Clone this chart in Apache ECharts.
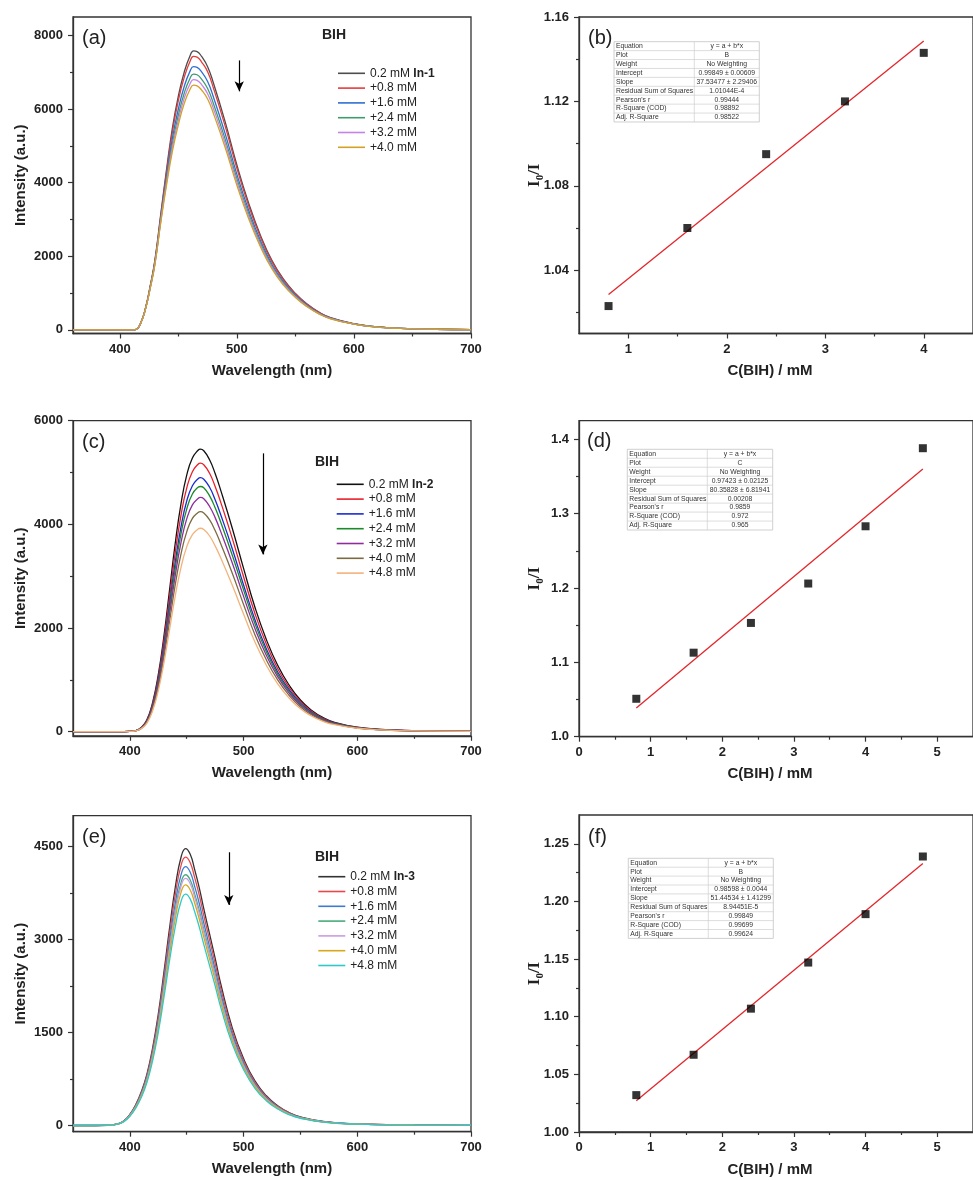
<!DOCTYPE html>
<html><head><meta charset="utf-8">
<script src="https://cdn.jsdelivr.net/npm/echarts@6/dist/echarts.min.js"></script>
<style>html,body{margin:0;padding:0;background:#fff}#c{width:973px;height:1180px}</style>
</head><body><div id="c"></div>
<script>
// ---------------- DATA ----------------
// Panel (a): emission spectra, In-1 + BIH
const aWave = [360,400,410,414,418,422,426,430,435,440,445,450,455,460,463,466,470,475,480,490,500,510,520,530,540,550,560,570,580,600,620,640,670,700];
const aS0 = [0,0,0,15,200,600,1200,1900,3150,4380,5500,6350,7000,7450,7580,7560,7420,7150,6700,5650,4480,3450,2580,1880,1370,990,700,480,330,165,80,40,15,5];
const aS1 = [0,0,0,15,198,592,1185,1875,3100,4300,5400,6230,6860,7300,7430,7410,7270,7010,6565,5535,4390,3380,2530,1845,1345,972,688,473,325,163,79,40,15,5];
const aS2 = [0,0,0,15,196,585,1165,1840,3040,4180,5220,6000,6610,7030,7150,7130,7000,6745,6320,5330,4225,3255,2435,1775,1295,938,665,458,316,160,78,39,15,5];
const aS3 = [0,0,0,15,195,580,1150,1815,2990,4090,5080,5830,6430,6835,6950,6930,6805,6555,6145,5180,4110,3165,2365,1728,1262,915,650,448,310,158,77,39,15,5];
const aS4 = [0,0,0,15,194,576,1140,1800,2955,4020,4970,5700,6290,6685,6800,6780,6655,6415,6010,5070,4020,3095,2315,1690,1235,897,638,441,305,156,76,38,15,5];
const aS5 = [0,0,0,15,193,572,1130,1780,2920,3950,4860,5570,6150,6535,6650,6630,6510,6270,5875,4955,3930,3025,2265,1652,1208,880,627,434,300,154,75,38,15,5];
const aLegend = ['0.2 mM In-1','+0.8 mM','+1.6 mM','+2.4 mM','+3.2 mM','+4.0 mM'];

// Panel (c): emission spectra, In-2 + BIH
const cWave = [350,390,400,405,410,415,420,425,430,435,440,445,450,455,460,462,465,470,475,480,490,500,510,520,530,540,550,560,570,580,600,620,650,700];
const cS0 = [0,0,5,20,80,230,560,1100,1850,2750,3650,4400,4950,5280,5430,5450,5420,5250,4980,4650,3930,3150,2400,1780,1280,900,610,410,270,180,85,45,18,5];
const cS1 = [0,0,5,19,76,218,532,1045,1760,2610,3470,4180,4700,5015,5160,5180,5150,4990,4730,4420,3735,2990,2280,1690,1215,855,580,390,257,171,82,43,17,5];
const cS2 = [0,0,5,18,72,207,503,990,1665,2470,3280,3955,4450,4745,4880,4900,4870,4720,4475,4180,3535,2830,2160,1600,1150,810,550,370,244,163,78,41,16,5];
const cS3 = [0,0,5,17,69,200,486,955,1605,2385,3170,3820,4295,4585,4715,4730,4705,4555,4320,4035,3410,2735,2085,1545,1110,782,530,357,236,158,76,40,16,5];
const cS4 = [0,0,5,17,66,191,464,912,1535,2280,3025,3650,4105,4375,4500,4520,4495,4350,4130,3855,3260,2610,1990,1475,1062,747,507,342,226,152,73,38,15,5];
const cS5 = [0,0,5,16,62,180,436,857,1440,2140,2845,3430,3855,4115,4230,4245,4220,4090,3880,3620,3060,2455,1870,1387,998,702,477,322,213,144,70,37,15,5];
const cS6 = [0,0,4,15,58,166,403,792,1332,1980,2630,3170,3565,3800,3910,3925,3900,3780,3585,3350,2830,2270,1730,1282,922,650,441,298,198,134,66,35,14,5];
const cLegend = ['0.2 mM In-2','+0.8 mM','+1.6 mM','+2.4 mM','+3.2 mM','+4.0 mM','+4.8 mM'];

// Panel (e): emission spectra, In-3 + BIH
const eWave = [350,370,380,390,395,400,405,410,415,420,425,430,435,440,445,449,453,457,461,465,470,475,480,490,500,510,520,530,540,550,570,600,650,700];
const eS0 = [0,0,5,30,80,180,330,540,830,1250,1800,2480,3200,3850,4330,4470,4380,4130,3840,3500,3100,2700,2280,1580,1080,720,480,320,210,140,65,25,8,3];
const eS1 = [0,0,5,29,78,175,320,523,804,1211,1744,2403,3100,3730,4195,4333,4245,4000,3720,3390,3005,2615,2210,1530,1045,697,465,310,204,136,63,24,8,3];
const eS2 = [0,0,5,28,75,168,308,504,775,1167,1680,2316,2990,3595,4045,4177,4090,3858,3587,3270,2895,2522,2130,1476,1009,672,448,299,196,131,61,23,8,3];
const eS3 = [0,0,5,27,73,163,299,489,751,1131,1630,2245,2895,3485,3920,4047,3965,3738,3475,3168,2805,2444,2063,1430,977,652,434,290,190,127,59,23,7,3];
const eS4 = [0,0,4,27,72,161,295,482,740,1115,1605,2212,2855,3435,3862,3988,3907,3684,3425,3122,2765,2408,2034,1409,963,642,428,285,187,125,58,22,7,3];
const eS5 = [0,0,4,26,70,156,287,469,721,1086,1564,2155,2780,3345,3763,3885,3806,3589,3337,3042,2694,2346,1981,1373,939,626,417,278,182,122,56,22,7,3];
const eS6 = [0,0,4,25,67,150,276,451,693,1044,1503,2071,2672,3215,3616,3734,3657,3449,3206,2923,2589,2255,1904,1319,902,601,401,267,175,117,54,21,7,3];
const eLegend = ['0.2 mM In-3','+0.8 mM','+1.6 mM','+2.4 mM','+3.2 mM','+4.0 mM','+4.8 mM'];

// Stern-Volmer panels (b), (d), (f)
const bConc = [0.8,1.6,2.4,3.2,4.0];
const bRatio = [1.023,1.060,1.095,1.120,1.143];
const bFitX = [0.8,4.0];
const bFitY = [1.0285,1.1486];
const dConc = [0.8,1.6,2.4,3.2,4.0,4.8];
const dRatio = [1.051,1.113,1.153,1.206,1.283,1.388];
const dFitX = [0.8,4.8];
const dFitY = [1.0385,1.3600];
const fConc = [0.8,1.6,2.4,3.2,4.0,4.8];
const fRatio = [1.032,1.067,1.107,1.147,1.189,1.239];
const fFitX = [0.8,4.8];
const fFitY = [1.0271,1.2329];

// Fit tables
const tableLabels = ['Equation','Plot','Weight','Intercept','Slope','Residual Sum of Squares',"Pearson's r",'R-Square (COD)','Adj. R-Square'];
const tableB = ['y = a + b*x','B','No Weighting','0.99849 ± 0.00609','37.53477 ± 2.29406','1.01044E-4','0.99444','0.98892','0.98522'];
const tableD = ['y = a + b*x','C','No Weighting','0.97423 ± 0.02125','80.35828 ± 6.81941','0.00208','0.9859','0.972','0.965'];
const tableF = ['y = a + b*x','B','No Weighting','0.98598 ± 0.0044','51.44534 ± 1.41299','8.94451E-5','0.99849','0.99699','0.99624'];

// Tick labels
const aXTicks = [400,500,600,700], aXMinor = [450,550,650];
const aYTicks = [0,2000,4000,6000,8000], aYMinor = [1000,3000,5000,7000];
const cXTicks = [400,500,600,700], cXMinor = [450,550,650];
const cYTicks = [0,2000,4000,6000], cYMinor = [1000,3000,5000];
const eXTicks = [400,500,600,700], eXMinor = [450,550,650];
const eYTicks = [0,1500,3000,4500], eYMinor = [750,2250,3750];
const bXTicks = [1,2,3,4], bXMinor = [1.5,2.5,3.5];
const bYTicks = [1.04,1.08,1.12,1.16], bYMinor = [1.02,1.06,1.10,1.14];
const dXTicks = [0,1,2,3,4,5], dXMinor = [0.5,1.5,2.5,3.5,4.5];
const dYTicks = [1.0,1.1,1.2,1.3,1.4], dYMinor = [1.05,1.15,1.25,1.35];
const fXTicks = [0,1,2,3,4,5], fXMinor = [0.5,1.5,2.5,3.5,4.5];
const fYTicks = [1.00,1.05,1.10,1.15,1.20,1.25], fYMinor = [1.025,1.075,1.125,1.175,1.225];

// ---------------- CHART ----------------
const FONT = '"Liberation Sans", Arial, Helvetica, sans-serif';
const SERIF = '"Liberation Serif", "Times New Roman", serif';
const AX = '#333';

const aColors = ['#4d4d4d','#e53b3b','#2e6fd1','#3f9b6f','#c583e6','#d1a227'];
const cColors = ['#111111','#e8202a','#1a2bd0','#1c8a2a','#8e2ca0','#7c6b40','#f4b27c'];
const eColors = ['#333333','#e8484c','#3a7cd4','#4aaa7c','#c99ce6','#d8a81c','#2fc9c9'];

const i0Name = '{i|I}{s|0}{i|/I}';
const i0Rich = {
  i:{fontFamily:SERIF,fontWeight:'bold',fontSize:17,color:'#222',lineHeight:22,verticalAlign:'middle'},
  s:{fontFamily:SERIF,fontWeight:'bold',fontSize:11,color:'#222',lineHeight:22,verticalAlign:'bottom'}
};

const panels = [
  {left:73, top:17, width:398, height:316.5, xMin:360, xMax:700, yMin:-100, yMax:8500, xT:aXTicks, xM:aXMinor, yT:aYTicks, yM:aYMinor, xName:'Wavelength (nm)', yName:'Intensity (a.u.)', yGap:45, yFmt:v=>String(v)},
  {left:579, top:17, width:398, height:316.5, xMin:0.5, xMax:4.5, yMin:1.01, yMax:1.16, xT:bXTicks, xM:bXMinor, yT:bYTicks, yM:bYMinor, xName:'C(BIH) / mM', yName:i0Name, yGap:33.5, yFmt:v=>v.toFixed(2), serif:true},
  {left:73, top:420.7, width:398, height:315.1, xMin:350, xMax:700, yMin:-80, yMax:6000, xT:cXTicks, xM:cXMinor, yT:cYTicks, yM:cYMinor, xName:'Wavelength (nm)', yName:'Intensity (a.u.)', yGap:45, yFmt:v=>String(v)},
  {left:579, top:420.7, width:398, height:316, xMin:0, xMax:5.5, yMin:1.0, yMax:1.425, xT:dXTicks, xM:dXMinor, yT:dYTicks, yM:dYMinor, xName:'C(BIH) / mM', yName:i0Name, yGap:33.5, yFmt:v=>v.toFixed(1), serif:true},
  {left:73, top:815.7, width:398, height:316, xMin:350, xMax:700, yMin:-100, yMax:5000, xT:eXTicks, xM:eXMinor, yT:eYTicks, yM:eYMinor, xName:'Wavelength (nm)', yName:'Intensity (a.u.)', yGap:45, yFmt:v=>String(v)},
  {left:579, top:815, width:398, height:317, xMin:0, xMax:5.5, yMin:1.0, yMax:1.275, xT:fXTicks, xM:fXMinor, yT:fYTicks, yM:fYMinor, xName:'C(BIH) / mM', yName:i0Name, yGap:33.5, yFmt:v=>v.toFixed(2), serif:true}
];

const grid = [], xAxis = [], yAxis = [];
const labelStyle = {fontSize:13, fontWeight:'bold', color:'#222', fontFamily:FONT};
const nameStyle = {fontSize:15, fontWeight:'bold', color:'#222', fontFamily:FONT};
panels.forEach((p,i)=>{
  grid.push({left:p.left, top:p.top, width:p.width, height:p.height, show:true, borderColor:AX, borderWidth:1.3, backgroundColor:'rgba(0,0,0,0)'});
  xAxis.push({gridIndex:i, type:'value', min:p.xMin, max:p.xMax, position:'bottom',
    axisLine:{show:true, onZero:false, lineStyle:{color:AX, width:1.3}},
    axisTick:{show:true, customValues:p.xT, length:5, lineStyle:{color:AX, width:1.2}},
    axisLabel:{customValues:p.xT, margin:9, ...labelStyle, formatter:v=>String(v)},
    splitLine:{show:false},
    name:p.xName, nameLocation:'middle', nameGap:30,
    nameTextStyle: p.serif ? {...nameStyle, padding:[0,12,0,0]} : nameStyle});
  xAxis.push({gridIndex:i, type:'value', min:p.xMin, max:p.xMax, position:'bottom',
    axisLine:{show:false, onZero:false}, axisLabel:{show:false},
    axisTick:{show:true, customValues:p.xM, length:3, lineStyle:{color:AX, width:1.2}},
    splitLine:{show:false}});
  yAxis.push({gridIndex:i, type:'value', min:p.yMin, max:p.yMax, position:'left',
    axisLine:{show:true, onZero:false, lineStyle:{color:AX, width:1.3}},
    axisTick:{show:true, customValues:p.yT, length:5, lineStyle:{color:AX, width:1.2}},
    axisLabel:{customValues:p.yT, margin:10, ...labelStyle, formatter:p.yFmt},
    splitLine:{show:false},
    name:p.yName, nameLocation:'middle', nameGap:p.yGap, nameMoveOverlap:false,
    nameTextStyle: p.serif ? {rich:i0Rich} : nameStyle});
  yAxis.push({gridIndex:i, type:'value', min:p.yMin, max:p.yMax, position:'left',
    axisLine:{show:false, onZero:false}, axisLabel:{show:false},
    axisTick:{show:true, customValues:p.yM, length:3, lineStyle:{color:AX, width:1.2}},
    splitLine:{show:false}});
});

const series = [];
function addSpectra(pi, prefix, wave, sets, colors, labels, arrow){
  sets.forEach((vals,k)=>{
    const s = {type:'line', name:prefix+':'+labels[k], xAxisIndex:pi*2, yAxisIndex:pi*2,
      data: wave.map((w,j)=>[w, vals[j]]), symbol:'none', showSymbol:false,
      smooth:0.5, lineStyle:{width:1.3, color:colors[k]}, itemStyle:{color:colors[k]}, z:2+k*0.01};
    if(k===0){
      s.markLine = {silent:true, symbol:['none','arrow'], symbolSize:[7,10], label:{show:false},
        lineStyle:{color:'#000', type:'solid', width:1.2},
        data:[[{coord:arrow[0]},{coord:arrow[1]}]]};
    }
    series.push(s);
  });
}
addSpectra(0,'a',aWave,[aS0,aS1,aS2,aS3,aS4,aS5],aColors,aLegend,[[502,7320],[502,6480]]);
addSpectra(2,'c',cWave,[cS0,cS1,cS2,cS3,cS4,cS5,cS6],cColors,cLegend,[[517,5370],[517,3420]]);
addSpectra(4,'e',eWave,[eS0,eS1,eS2,eS3,eS4,eS5,eS6],eColors,eLegend,[[487,4410],[487,3560]]);

function addSV(pi, conc, ratio, fx, fy){
  series.push({type:'line', xAxisIndex:pi*2, yAxisIndex:pi*2, data: fx.map((x,j)=>[x, fy[j]]),
    symbol:'none', lineStyle:{color:'#e3262b', width:1.3}, z:3});
  series.push({type:'scatter', xAxisIndex:pi*2, yAxisIndex:pi*2, data: conc.map((x,j)=>[x, ratio[j]]),
    symbol:'rect', symbolSize:8, itemStyle:{color:'#000'}, z:4});
}
addSV(1,bConc,bRatio,bFitX,bFitY);
addSV(3,dConc,dRatio,dFitX,dFitY);
addSV(5,fConc,fRatio,fFitX,fFitY);

function legendFor(prefix, labels, left, top){
  return {left, top, orient:'vertical', padding:0, itemGap:0.8, itemWidth:27, itemHeight:1.6, icon:'rect',
    selectedMode:false, data: labels.map(l=>prefix+':'+l),
    formatter: n => n.slice(2).replace(/(In-\d)/,'{b|$1}'),
    textStyle:{fontSize:12, color:'#222', fontFamily:FONT, lineHeight:14,
      rich:{b:{fontWeight:'bold', fontSize:12, color:'#222', fontFamily:FONT, lineHeight:14}}}};
}
const legend = [
  legendFor('a', aLegend, 338, 66.3),
  legendFor('c', cLegend, 336.7, 477.3),
  legendFor('e', eLegend, 318.3, 869.7)
];

const graphic = [];
function txt(x,y,t,size,weight,align){
  graphic.push({type:'text', x, y, z:20, style:{text:t, fontSize:size, fontWeight:weight||'normal', fontFamily:FONT, fill:'#222', align:align||'left', verticalAlign:'middle'}});
}
txt(82,38,'(a)',20); txt(588,38,'(b)',20);
txt(82,442,'(c)',20); txt(587,441,'(d)',20);
txt(82,837.5,'(e)',20); txt(588,837,'(f)',20);
txt(334,35,'BIH',14,'bold','center');
txt(327,462.3,'BIH',14,'bold','center');
txt(327,856.7,'BIH',14,'bold','center');

function table(x0,y0,w,split,rowH,vals){
  const h = rowH*tableLabels.length;
  graphic.push({type:'rect', z:15, shape:{x:x0,y:y0,width:w,height:h}, style:{fill:'#fff', stroke:'#c4c4c4', lineWidth:0.8}});
  for(let r=1;r<tableLabels.length;r++){
    graphic.push({type:'line', z:16, shape:{x1:x0,y1:y0+r*rowH,x2:x0+w,y2:y0+r*rowH}, style:{stroke:'#cfcfcf', lineWidth:0.7}});
  }
  graphic.push({type:'line', z:16, shape:{x1:split,y1:y0,x2:split,y2:y0+h}, style:{stroke:'#cfcfcf', lineWidth:0.7}});
  tableLabels.forEach((l,r)=>{
    graphic.push({type:'text', z:17, x:x0+2, y:y0+rowH*(r+0.5), style:{text:l, fontSize:6.8, fontFamily:FONT, fill:'#333', align:'left', verticalAlign:'middle'}});
    graphic.push({type:'text', z:17, x:(split+x0+w)/2, y:y0+rowH*(r+0.5), style:{text:vals[r], fontSize:6.8, fontFamily:FONT, fill:'#333', align:'center', verticalAlign:'middle'}});
  });
}
table(614,41.7,145.3,694.3,8.92,tableB);
table(627.3,449.3,145.4,707.3,8.97,tableD);
table(628.3,858.3,145,708.3,8.9,tableF);

const chart = echarts.init(document.getElementById('c'), null, {renderer:'canvas'});
chart.setOption({animation:false, backgroundColor:'#fff', grid, xAxis, yAxis, series, legend, graphic});
</script>
</body></html>
